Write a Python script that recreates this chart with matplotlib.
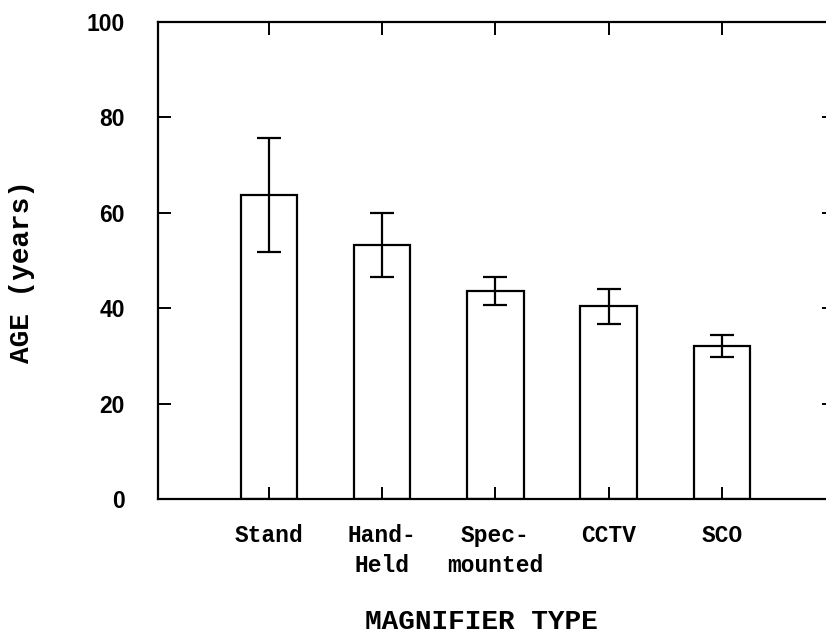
import matplotlib.pyplot as plt
import numpy as np

plt.switch_backend('Agg')

# donnees
categories = ["Stand", "Hand-\nHeld", "Spec-\nmounted", "CCTV", "SCO"]
ages = [63.7, 53.2, 43.6, 40.4, 32.1]
errors = [12.0, 6.7, 3.0, 3.7, 2.3]
yticks = [0, 20, 40, 60, 80, 100]

mono = "Liberation Mono"

fig = plt.figure(figsize=(8.26, 6.39), dpi=100)
ax = fig.add_axes([158 / 826, 140 / 639, 668 / 826, 477 / 639])

x = np.arange(1, len(categories) + 1)
ax.bar(x, ages, width=0.5, color="white", edgecolor="black", linewidth=1.6, zorder=1)
ax.errorbar(x, ages, yerr=errors, fmt="none", ecolor="black", elinewidth=1.6,
            capsize=8.5, capthick=1.6, zorder=3)
ax.set_axisbelow(False)

ax.set_xlim(0.02, 5.92)
ax.set_ylim(0, 100)

# axes : pas de bordure droite, graduations vers l'interieur
ax.spines["right"].set_visible(False)
for s in ["left", "bottom", "top"]:
    ax.spines[s].set_linewidth(1.6)

ax.set_yticks(yticks)
ax.set_yticklabels([str(v) for v in yticks], fontfamily="Liberation Sans",
                   fontweight="bold", fontsize=16.5)
ax.tick_params(axis="y", direction="in", length=9, width=1.4, pad=24, left=True, right=False)

ax.set_xticks(x)
ax.set_xticklabels(categories, fontfamily=mono, fontweight="bold", fontsize=16.5,
                   linespacing=1.4)
ax.tick_params(axis="x", direction="in", length=9, width=1.4, pad=18, top=True, bottom=True)

# petites graduations a droite
ax2 = ax.twinx()
ax2.set_ylim(0, 100)
ax2.set_yticks([20, 40, 60, 80])
ax2.tick_params(axis="y", direction="in", length=3, width=1.4, labelright=False)
for s in ax2.spines.values():
    s.set_visible(False)

fig.text(481 / 826, 1 - 622 / 639, "MAGNIFIER TYPE", ha="center", va="center",
         fontfamily=mono, fontweight="bold", fontsize=20)
fig.text(22 / 826, 1 - 363 / 639, "AGE (years)", rotation=90, ha="center", va="bottom",
         fontfamily=mono, fontweight="bold", fontsize=20)

plt.savefig("out.png", dpi=100)
plt.close()
